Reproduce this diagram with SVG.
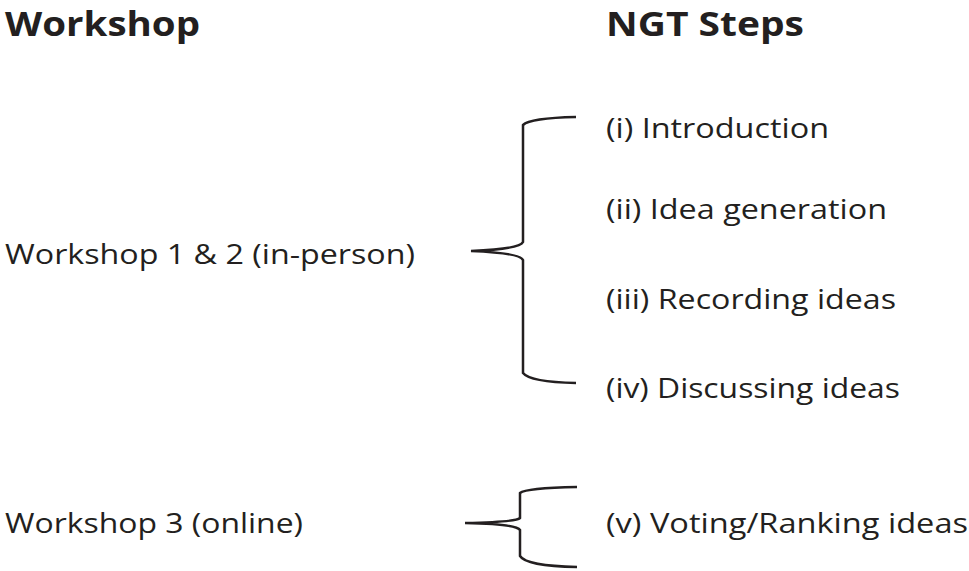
<svg xmlns="http://www.w3.org/2000/svg" width="969" height="571" viewBox="0 0 969 571">
<style>
.h{font-family:"Open Sans","Liberation Sans",sans-serif;font-weight:bold;font-size:34px;fill:#231f20}
.t{font-family:"Open Sans","Liberation Sans",sans-serif;font-size:27px;fill:#231f20}
.b{fill:none;stroke:#231f20;stroke-width:2.5}
</style>
<rect width="969" height="571" fill="#fff"/>
<g id="headers"><text class="h" x="5" y="36" textLength="195" lengthAdjust="spacingAndGlyphs">Workshop</text><text class="h" x="606" y="36" textLength="198" lengthAdjust="spacingAndGlyphs">NGT Steps</text></g>
<g id="workshop12"><text class="t" x="5" y="264" textLength="410" lengthAdjust="spacingAndGlyphs">Workshop 1 &amp; 2 (in-person)</text></g>
<g id="workshop3"><text class="t" x="5" y="533" textLength="298" lengthAdjust="spacingAndGlyphs">Workshop 3 (online)</text></g>
<g id="step1"><text class="t" x="606" y="138" textLength="223" lengthAdjust="spacingAndGlyphs">(i) Introduction</text></g>
<g id="step2"><text class="t" x="606" y="219" textLength="281" lengthAdjust="spacingAndGlyphs">(ii) Idea generation</text></g>
<g id="step3"><text class="t" x="606" y="309" textLength="290" lengthAdjust="spacingAndGlyphs">(iii) Recording ideas</text></g>
<g id="step4"><text class="t" x="606" y="398" textLength="294" lengthAdjust="spacingAndGlyphs">(iv) Discussing ideas</text></g>
<g id="step5"><text class="t" x="606" y="533" textLength="362" lengthAdjust="spacingAndGlyphs">(v) Voting/Ranking ideas</text></g>
<g id="connectors">
<path class="b" d="M576 117 Q530 118 523 125 L523 242 Q520 249 471 251 Q520 253 523 260 L523 373 Q530 382 576 383"/>
<path class="b" d="M577 487 Q526 488 520 493 L520 518 Q516 522 465 523 Q516 524 520 530 L520 556 Q526 566 577 567"/>
</g>
</svg>
